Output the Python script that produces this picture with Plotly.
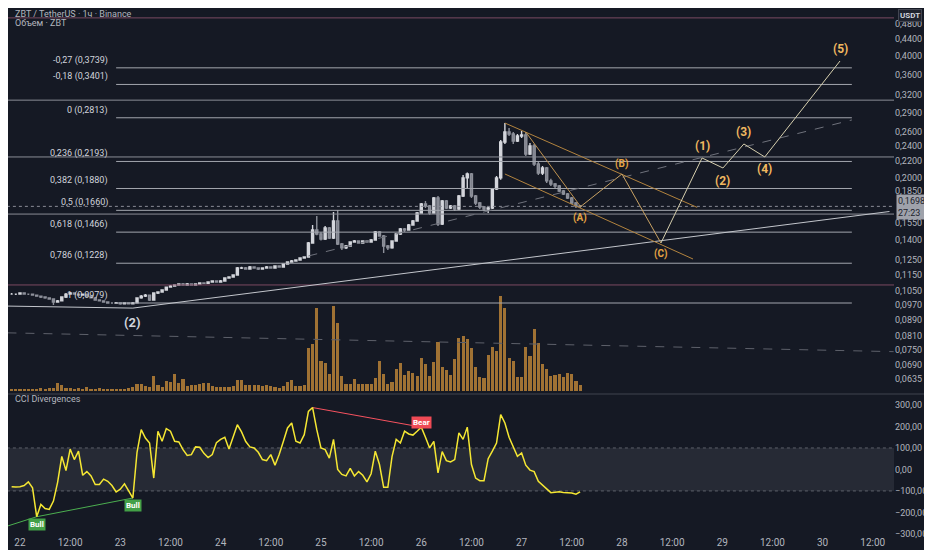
import math
import pandas as pd
import plotly.graph_objects as go

BG = "#151924"
TXT = "#b2b5be"

# hourly candles ZBT/USDT from 21 22:00 to 27 14:00
times = pd.date_range("2025-10-21 22:00", periods=137, freq="h")

opens = [
    0.1030, 0.1030, 0.1030, 0.1036, 0.1030, 0.1030, 0.1024, 0.1018, 0.1013, 0.1008,
    0.1002, 0.0985, 0.0991, 0.1013, 0.1030, 0.1036, 0.1030, 0.1024, 0.1030, 0.1018,
    0.1008, 0.0996, 0.0991, 0.0985, 0.0979, 0.0979, 0.0980, 0.0974, 0.0979, 0.0975,
    0.0980, 0.1008, 0.1018, 0.1024, 0.0996, 0.1036, 0.1042, 0.1054, 0.1072, 0.1079,
    0.1085, 0.1091, 0.1085, 0.1091, 0.1085, 0.1091, 0.1097, 0.1096, 0.1103, 0.1110,
    0.1103, 0.1110, 0.1129, 0.1135, 0.1148, 0.1195, 0.1196, 0.1188, 0.1202, 0.1195,
    0.1188, 0.1195, 0.1202, 0.1195, 0.1209, 0.1202, 0.1223, 0.1237, 0.1244, 0.1251,
    0.1265, 0.1272, 0.1378, 0.1484, 0.1450, 0.1410, 0.1501, 0.1418, 0.1562, 0.1370,
    0.1340, 0.1355, 0.1386, 0.1394, 0.1378, 0.1394, 0.1386, 0.1402, 0.1467, 0.1434,
    0.1355, 0.1340, 0.1394, 0.1450, 0.1492, 0.1484, 0.1527, 0.1562, 0.1635, 0.1721,
    0.1702, 0.1635, 0.1781, 0.1535, 0.1751, 0.1682, 0.1702, 0.1673, 0.1801, 0.1997,
    0.2042, 0.1801, 0.1731, 0.1692, 0.1673, 0.1682, 0.1875, 0.1997, 0.2450, 0.2594,
    0.2565, 0.2464, 0.2536, 0.2550, 0.2289, 0.2395, 0.2162, 0.2054, 0.2113, 0.1963,
    0.1929, 0.1907, 0.1853, 0.1822, 0.1781, 0.1731, 0.1702,
]
highs = [
    0.1036, 0.1034, 0.1040, 0.1040, 0.1034, 0.1033, 0.1028, 0.1022, 0.1016, 0.1011,
    0.1006, 0.0996, 0.1016, 0.1036, 0.1042, 0.1040, 0.1034, 0.1034, 0.1033, 0.1022,
    0.1012, 0.1000, 0.0995, 0.0989, 0.0983, 0.0984, 0.0983, 0.0982, 0.0982, 0.0984,
    0.1012, 0.1024, 0.1030, 0.1028, 0.1040, 0.1046, 0.1058, 0.1076, 0.1085, 0.1090,
    0.1096, 0.1097, 0.1097, 0.1096, 0.1095, 0.1102, 0.1102, 0.1108, 0.1115, 0.1114,
    0.1116, 0.1134, 0.1141, 0.1154, 0.1202, 0.1204, 0.1202, 0.1208, 0.1206, 0.1200,
    0.1200, 0.1208, 0.1207, 0.1214, 0.1213, 0.1228, 0.1242, 0.1250, 0.1257, 0.1270,
    0.1278, 0.1386, 0.1527, 0.1607, 0.1465, 0.1518, 0.1510, 0.1644, 0.1663, 0.1378,
    0.1362, 0.1392, 0.1402, 0.1400, 0.1400, 0.1400, 0.1410, 0.1476, 0.1476, 0.1442,
    0.1362, 0.1400, 0.1458, 0.1500, 0.1501, 0.1535, 0.1571, 0.1645, 0.1731, 0.1751,
    0.1711, 0.1791, 0.1801, 0.1761, 0.1761, 0.1711, 0.1711, 0.1811, 0.2031, 0.2060,
    0.2054, 0.1811, 0.1741, 0.1702, 0.1692, 0.1886, 0.2019, 0.2478, 0.2730, 0.2653,
    0.2594, 0.2565, 0.2608, 0.2594, 0.2436, 0.2423, 0.2200, 0.2137, 0.2125, 0.1986,
    0.1940, 0.1918, 0.1864, 0.1832, 0.1791, 0.1741, 0.1711,
]
lows = [
    0.1026, 0.1025, 0.1028, 0.1027, 0.1025, 0.1020, 0.1014, 0.1008, 0.1003, 0.0998,
    0.0968, 0.0982, 0.0988, 0.1008, 0.1026, 0.1026, 0.1020, 0.1021, 0.1014, 0.1004,
    0.0992, 0.0987, 0.0981, 0.0975, 0.0975, 0.0976, 0.0970, 0.0971, 0.0971, 0.0972,
    0.0976, 0.1003, 0.1013, 0.0990, 0.0992, 0.1031, 0.1038, 0.1050, 0.1068, 0.1075,
    0.1081, 0.1080, 0.1081, 0.1080, 0.1081, 0.1087, 0.1091, 0.1092, 0.1099, 0.1098,
    0.1099, 0.1106, 0.1125, 0.1131, 0.1144, 0.1189, 0.1183, 0.1184, 0.1190, 0.1182,
    0.1184, 0.1190, 0.1190, 0.1191, 0.1197, 0.1198, 0.1218, 0.1232, 0.1240, 0.1247,
    0.1260, 0.1268, 0.1372, 0.1440, 0.1398, 0.1402, 0.1410, 0.1410, 0.1362, 0.1325,
    0.1332, 0.1350, 0.1380, 0.1372, 0.1372, 0.1380, 0.1380, 0.1398, 0.1428, 0.1302,
    0.1325, 0.1334, 0.1388, 0.1442, 0.1467, 0.1478, 0.1520, 0.1555, 0.1627, 0.1682,
    0.1618, 0.1627, 0.1518, 0.1527, 0.1673, 0.1673, 0.1654, 0.1663, 0.1791, 0.1875,
    0.1781, 0.1711, 0.1673, 0.1654, 0.1635, 0.1673, 0.1864, 0.1975, 0.2423, 0.2536,
    0.2423, 0.2450, 0.2506, 0.2263, 0.2276, 0.2137, 0.2031, 0.2031, 0.1940, 0.1907,
    0.1886, 0.1842, 0.1811, 0.1771, 0.1721, 0.1682, 0.1682,
]
closes = [
    0.1030, 0.1030, 0.1036, 0.1030, 0.1030, 0.1024, 0.1018, 0.1013, 0.1008, 0.1002,
    0.0985, 0.0991, 0.1013, 0.1030, 0.1036, 0.1030, 0.1024, 0.1030, 0.1018, 0.1008,
    0.0996, 0.0991, 0.0985, 0.0979, 0.0979, 0.0980, 0.0974, 0.0979, 0.0975, 0.0980,
    0.1008, 0.1018, 0.1024, 0.0996, 0.1036, 0.1042, 0.1054, 0.1072, 0.1079, 0.1085,
    0.1091, 0.1085, 0.1091, 0.1085, 0.1091, 0.1097, 0.1096, 0.1103, 0.1110, 0.1103,
    0.1110, 0.1129, 0.1135, 0.1148, 0.1195, 0.1196, 0.1188, 0.1202, 0.1195, 0.1188,
    0.1195, 0.1202, 0.1195, 0.1209, 0.1202, 0.1223, 0.1237, 0.1244, 0.1251, 0.1265,
    0.1272, 0.1378, 0.1484, 0.1450, 0.1410, 0.1501, 0.1418, 0.1562, 0.1370, 0.1340,
    0.1355, 0.1386, 0.1394, 0.1378, 0.1394, 0.1386, 0.1402, 0.1467, 0.1434, 0.1355,
    0.1340, 0.1394, 0.1450, 0.1492, 0.1484, 0.1527, 0.1562, 0.1635, 0.1721, 0.1702,
    0.1635, 0.1781, 0.1535, 0.1751, 0.1682, 0.1702, 0.1673, 0.1801, 0.1997, 0.2042,
    0.1801, 0.1731, 0.1692, 0.1673, 0.1682, 0.1875, 0.1997, 0.2450, 0.2594, 0.2565,
    0.2464, 0.2536, 0.2550, 0.2289, 0.2395, 0.2162, 0.2054, 0.2113, 0.1963, 0.1929,
    0.1907, 0.1853, 0.1822, 0.1781, 0.1731, 0.1702, 0.1698,
]
# volume, x10k ZBT
volume = [
    2, 2, 2, 2, 2, 2, 2, 3, 2, 3,
    3, 8, 6, 3, 3, 2, 3, 2, 4, 2,
    2, 3, 2, 2, 2, 2, 2, 2, 3, 4,
    7, 7, 5, 4, 15, 6, 4, 10, 9, 17,
    8, 12, 5, 6, 6, 7, 8, 8, 5, 4,
    4, 4, 4, 5, 11, 11, 6, 6, 6, 6,
    5, 6, 5, 4, 3, 5, 9, 11, 5, 5,
    6, 43, 47, 83, 30, 28, 17, 85, 68, 15,
    7, 7, 12, 7, 7, 7, 7, 13, 30, 17,
    7, 9, 22, 28, 16, 20, 18, 15, 33, 27,
    15, 29, 49, 24, 21, 16, 32, 53, 55, 52,
    43, 24, 14, 13, 36, 44, 40, 95, 83, 33,
    30, 14, 14, 44, 35, 62, 48, 27, 22, 15,
    16, 17, 14, 18, 17, 10, 6,
]
cci = [
    -80, -82, -80, -75, -58, -85, -220, -163, -182, -186,
    -147, -60, 61, -5, 95, 46, 85, -27, -10, -30,
    -70, -70, -45, -55, -75, -105, -92, -67, -100, -133,
    80, 185, 146, 123, -40, 178, 131, 190, 178, 131,
    128, 92, 65, 69, 105, 103, 75, 55, 69, 125,
    140, 150, 95, 150, 208, 175, 130, 105, 100, 80,
    46, 41, 69, 20, 70, 130, 193, 216, 131, 123,
    162, 270, 288, 185, 100, 92, 53, 140, 0, -23,
    -30, 5, -30, -10, -27, -58, -20, 85, 23, -83,
    -83, 60, 140, 123, 178, 165, 160, 178, 197, 150,
    100, 131, -16, 83, 41, 35, 46, 170, 140, 197,
    23, -40, -52, -52, 50, 85, 123, 255, 216, 150,
    105, 61, 77, 20, -3, -10, -55, -72, -88, -108,
    -106, -104, -107, -108, -110, -115, -104,
]

fib_prices = [0.3739, 0.3401, 0.2813, 0.2193, 0.1880, 0.1660, 0.1466, 0.1228, 0.0979]
fib_labels = ["-0,27 (0,3739)", "-0,18 (0,3401)", "0 (0,2813)", "0,236 (0,2193)",
              "0,382 (0,1880)", "0,5 (0,1660)", "0,618 (0,1466)", "0,786 (0,1228)",
              "1 (0,0979)"]
level_prices = [0.311, 0.225, 0.1625]
pink_prices = [0.497, 0.1085]
last_price = 0.1698

price_ticks = [0.48, 0.44, 0.40, 0.36, 0.32, 0.29, 0.26, 0.24, 0.22, 0.20, 0.185,
               0.155, 0.14, 0.125, 0.115, 0.105, 0.097, 0.089, 0.081, 0.075, 0.069, 0.0635]
cci_ticks = [300, 200, 100, 0, -100, -200, -300]
cci_ticktext = ["300,00", "200,00", "100,00", "0,00", "\u2212100,00", "\u2212200,00", "\u2212300,00"]

x_ticks = pd.date_range("2025-10-22 00:00", "2025-10-30 12:00", freq="12h")
x_ticktext = ["22", "12:00", "23", "12:00", "24", "12:00", "25", "12:00", "26", "12:00",
              "27", "12:00", "28", "12:00", "29", "12:00", "30", "12:00"]

# elliott wave projection
abc_t = ["2025-10-27 14:00", "2025-10-28 00:00", "2025-10-28 09:20"]
abc_p = [0.1692, 0.2042, 0.1378]
abc_txt = ["(A)", "(B)", "(C)"]
imp_t = ["2025-10-28 09:20", "2025-10-28 19:10", "2025-10-29 00:10", "2025-10-29 05:10",
         "2025-10-29 10:10", "2025-10-30 04:10"]
imp_p = [0.1378, 0.2237, 0.2113, 0.2423, 0.2250, 0.3887]
imp_txt = ["", "(1)", "(2)", "(3)", "(4)", "(5)"]

T_LEFT = "2025-10-21 18:00"
T_RIGHT = "2025-10-30 20:00"
FIB_START = "2025-10-22 23:00"
FIB_END = "2025-10-30 07:00"

fig = go.Figure()

# volume on the base axis of the upper pane
fig.add_trace(go.Bar(x=times, y=volume, yaxis="y", marker_color="#b07c36", marker_line_width=0,
                     width=0.75 * 3600 * 1000, opacity=0.9, hoverinfo="skip", showlegend=False))


def line(xs, ys, color, width=1, dash="solid", yaxis="y3"):
    fig.add_trace(go.Scatter(x=xs, y=ys, mode="lines", yaxis=yaxis,
                             line=dict(color=color, width=width, dash=dash),
                             hoverinfo="skip", showlegend=False))


for p in pink_prices:
    line([T_LEFT, T_RIGHT], [p, p], "#7b4a62")
for p in level_prices:
    line([T_LEFT, T_RIGHT], [p, p], "#8a8d96")
for p in fib_prices:
    line([FIB_START, FIB_END], [p, p], "#a3a6ae")
line([T_LEFT, T_RIGHT], [last_price, last_price], "#8a8d96", dash="dot")

# trend lines
line(["2025-10-21 21:00", "2025-10-23 03:00", "2025-10-30 16:00"], [0.0962, 0.0951, 0.1649], "#c3c6cc")
line(["2025-10-24 21:00", FIB_END], [0.1280, 0.2778], "#6f727c", dash="dash")
line(["2025-10-21 21:00", "2025-10-30 17:00"], [0.0826, 0.0742], "#5d606a", dash="dash")

fig.add_trace(go.Candlestick(
    x=times, open=opens, high=highs, low=lows, close=closes, yaxis="y3",
    increasing=dict(line=dict(color="#d4d6dc", width=1.4), fillcolor="#d4d6dc"),
    decreasing=dict(line=dict(color="#8d909a", width=1.4), fillcolor="#7a7d87"),
    whiskerwidth=0, hoverinfo="skip", showlegend=False))

# correction channel
line(["2025-10-26 20:00", "2025-10-28 18:00"], [0.2730, 0.1688], "#b3843f")
line(["2025-10-26 20:00", "2025-10-28 17:00"], [0.2042, 0.1258], "#b3843f")
line(["2025-10-27 01:00", "2025-10-27 14:00"], [0.2594, 0.1702], "#c09350")
line(abc_t, abc_p, "#c9a263")
line(imp_t, imp_p, "#d6cfae")

# CCI pane
line([T_LEFT, T_RIGHT, T_RIGHT, T_LEFT, T_LEFT], [100, 100, -100, -100, 100], "rgba(0,0,0,0)", yaxis="y2")
fig.data[-1].update(fill="toself", fillcolor="#262a35")
line([T_LEFT, T_RIGHT], [100, 100], "#5d606a", dash="dot", yaxis="y2")
line([T_LEFT, T_RIGHT], [-100, -100], "#5d606a", dash="dot", yaxis="y2")
line(["2025-10-21 18:00", str(times[6]), str(times[29])], [-282, cci[6], cci[29]], "#4caf50", yaxis="y2")
line([str(times[72]), str(times[98])], [cci[72], cci[98]], "#f7525f", yaxis="y2")
fig.add_trace(go.Scatter(x=times, y=cci, yaxis="y2", mode="lines",
                         line=dict(color="#f5e733", width=1.5), hoverinfo="skip", showlegend=False))

ann = []
for p, t in zip(fib_prices, fib_labels):
    ann.append(dict(x="2025-10-22 21:30", y=math.log10(p), xref="x", yref="y3", text=t,
                    xanchor="right", yanchor="bottom", showarrow=False,
                    font=dict(size=9, color="#d1d4dc")))
shifts = [-11, 10, -11]
for t, p, s, txt in zip(abc_t, abc_p, shifts, abc_txt):
    ann.append(dict(x=t, y=math.log10(p), xref="x", yref="y3", text="<b>%s</b>" % txt,
                    yshift=s, showarrow=False, font=dict(size=10, color="#e5a443")))
shifts = [0, 12, -13, 12, -12, 12]
for t, p, s, txt in zip(imp_t, imp_p, shifts, imp_txt):
    if txt:
        ann.append(dict(x=t, y=math.log10(p), xref="x", yref="y3", text="<b>%s</b>" % txt,
                        yshift=s, showarrow=False, font=dict(size=12, color="#f0b860")))
ann.append(dict(x="2025-10-23 03:00", y=math.log10(0.0951), xref="x", yref="y3",
                text="<b>(2)</b>", yshift=-14, showarrow=False, font=dict(size=13, color="#d1d4dc")))

# divergence labels
for k, name in [(6, "Bull"), (29, "Bull")]:
    ann.append(dict(x=str(times[k]), y=cci[k], xref="x", yref="y2", text="<b>%s</b>" % name,
                    yanchor="top", yshift=-1, showarrow=False, bgcolor="#43a047", borderpad=1,
                    font=dict(size=8, color="#ffffff")))
ann.append(dict(x=str(times[98]), y=cci[98], xref="x", yref="y2", text="<b>Bear</b>",
                yanchor="bottom", yshift=-2, showarrow=False, bgcolor="#ef4a55", borderpad=1,
                font=dict(size=8, color="#ffffff")))

# header / legends
ann.append(dict(x=0.006, y=1 - 6 / 530, xref="paper", yref="paper", text="ZBT / TetherUS · 1ч · Binance",
                xanchor="left", yanchor="middle", showarrow=False, font=dict(size=9, color=TXT)))
ann.append(dict(x=0.006, y=1 - 15 / 530, xref="paper", yref="paper", text="Объем · ZBT",
                xanchor="left", yanchor="middle", showarrow=False, font=dict(size=9, color=TXT)))
ann.append(dict(x=0.006, y=1 - 391 / 530, xref="paper", yref="paper", text="CCI Divergences",
                xanchor="left", yanchor="middle", showarrow=False, font=dict(size=9, color=TXT)))
ann.append(dict(x=1, y=1, xref="paper", yref="paper", text="<b>USDT</b>", xanchor="left",
                xshift=4, yanchor="top", yshift=-1, showarrow=False, bgcolor="#1e222d", bordercolor="#434651",
                borderpad=1, font=dict(size=8, color="#d1d4dc")))
ann.append(dict(x=1, y=math.log10(last_price), xref="paper", yref="y3", text="0,1698<br>27:23",
                xanchor="left", xshift=2, yanchor="middle", yshift=-1, showarrow=False,
                bgcolor="#9fa2ab", borderpad=1, align="left", font=dict(size=9, color="#1e222d")))

fig.update_layout(
    width=932, height=550,
    margin=dict(l=0, r=46, t=0, b=20),
    paper_bgcolor=BG, plot_bgcolor=BG,
    font=dict(family="Roboto, Noto Sans, sans-serif", color=TXT),
    annotations=ann,
    bargap=0,
    xaxis=dict(type="date", range=["2025-10-21 21:08", "2025-10-30 17:05"], anchor="y2",
               tickvals=x_ticks, ticktext=x_ticktext, showgrid=False, zeroline=False,
               tickfont=dict(size=10, color=TXT), rangeslider=dict(visible=False), ticks="",
               ticklabelstandoff=-3),
    yaxis=dict(domain=[0.2736, 1], range=[-2, 383], visible=False, showgrid=False),
    yaxis3=dict(overlaying="y", side="right", type="log", range=[-1.2319, -0.2792],
                tickvals=price_ticks, ticktext=[("%.4f" % v).replace(".", ",") for v in price_ticks],
                showgrid=False, zeroline=False, ticks="", ticklabelstandoff=0,
                tickfont=dict(size=9, color=TXT)),
    yaxis2=dict(domain=[0, 0.268], range=[-319, 342], side="right", showgrid=False, zeroline=False,
                tickvals=cci_ticks, ticktext=cci_ticktext, ticks="", ticklabelstandoff=0,
                tickfont=dict(size=9, color=TXT)),
    shapes=[dict(type="line", xref="paper", yref="paper", x0=0, x1=1.06, y0=1 - 386 / 530,
                 y1=1 - 386 / 530, line=dict(color="#2a2e39", width=2))],
)

fig.write_html("out.html")
